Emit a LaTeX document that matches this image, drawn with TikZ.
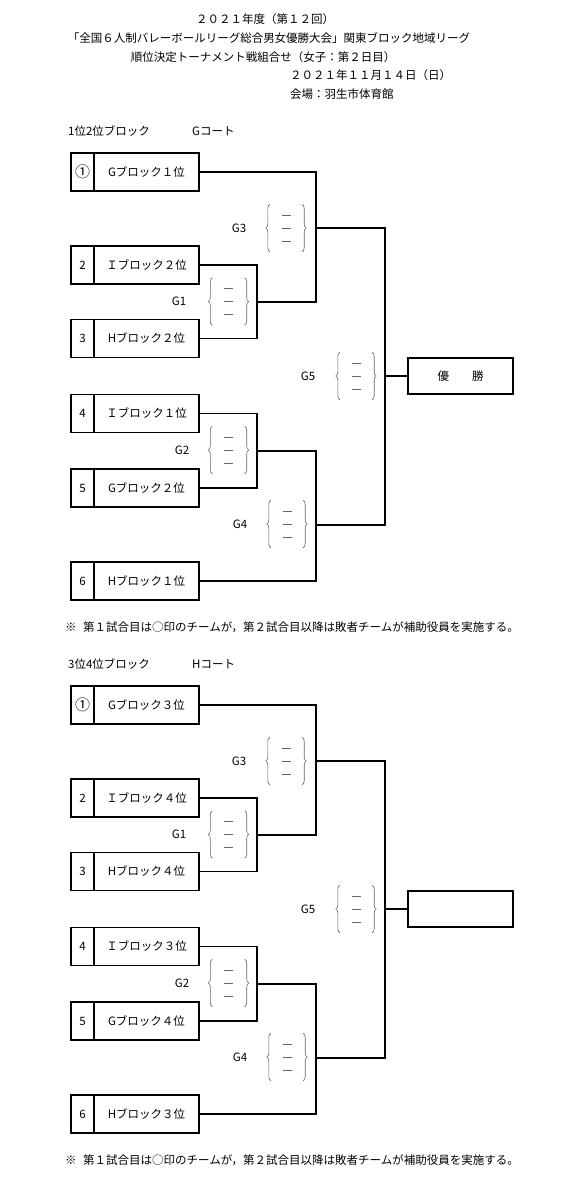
\documentclass[tikz,border=0pt]{standalone}
\usepackage{fontspec}
\setmainfont{Noto Sans CJK JP}
\usetikzlibrary{decorations.pathreplacing}
\tikzset{
  txt/.style={inner sep=0pt, font=\fontsize{11.5}{14}\selectfont},
  numcell/.style={draw, line width=1.2pt, minimum width=23pt, minimum height=38pt, inner sep=0pt, font=\fontsize{11.5}{14}\selectfont},
  namecell/.style={draw, line width=1.2pt, minimum width=105pt, minimum height=38pt, inner sep=0pt, font=\fontsize{11.5}{14}\selectfont},
  champ/.style={draw, line width=1.2pt, minimum width=105pt, minimum height=36pt, inner sep=0pt, font=\fontsize{11.5}{14}\selectfont},
  wire/.style={line width=1.2pt, black},
  scorebox/.style={minimum width=32pt, minimum height=47pt, inner sep=0pt},
  bracel/.style={draw=black!60, line width=0.6pt, decorate, decoration={brace, amplitude=4pt}},
  dashln/.style={draw=black!60, line width=0.6pt},
}
\newcommand\scoreset[5]{%
  \node[scorebox] (#1) at (#2,#3) {};
  \draw[bracel] (#1.south west) -- (#1.north west);
  \draw[bracel] (#1.north east) -- (#1.south east);
  \draw[dashln] ([xshift=-4.5pt,yshift=13pt]#1.center) -- ([xshift=4.5pt,yshift=13pt]#1.center);
  \draw[dashln] ([xshift=-4.5pt]#1.center) -- ([xshift=4.5pt]#1.center);
  \draw[dashln] ([xshift=-4.5pt,yshift=-13pt]#1.center) -- ([xshift=4.5pt,yshift=-13pt]#1.center);
  \node[txt] (#1lab) at (#4,#3) {#5};
}
\newcommand\bracketblock[2]{%
\begin{scope}[yshift=-#2pt]
  \node[txt, anchor=west] (#1hdr) at (68,131) {\hdrA};
  \node[txt, anchor=west] (#1crt) at (192,131) {\hdrB};
  \node[numcell, font=\fontsize{15}{16}\selectfont] (#1n1) at (82.5,172) {①};
  \node[namecell] (#1t1) at (146.5,172) {\tA};
  \node[numcell] (#1n2) at (82.5,265) {2};
  \node[namecell] (#1t2) at (146.5,265) {\tB};
  \node[numcell] (#1n3) at (82.5,338.5) {3};
  \node[namecell] (#1t3) at (146.5,338.5) {\tC};
  \node[numcell] (#1n4) at (82.5,413.5) {4};
  \node[namecell] (#1t4) at (146.5,413.5) {\tD};
  \node[numcell] (#1n5) at (82.5,488) {5};
  \node[namecell] (#1t5) at (146.5,488) {\tE};
  \node[numcell] (#1n6) at (82.5,581) {6};
  \node[namecell] (#1t6) at (146.5,581) {\tF};
  \node[champ] (#1ch) at (460.5,376) {\chtext};
  \coordinate (#1j1) at (257,302);
  \coordinate (#1j2) at (257,451);
  \coordinate (#1j3) at (316,228);
  \coordinate (#1j4) at (316,525);
  \coordinate (#1j5) at (385,376);
  \draw[wire] (#1t2.east) -| (#1j1) |- (#1t3.east);
  \draw[wire] (#1t1.east) -| (#1j3) |- (#1j1);
  \draw[wire] (#1t4.east) -| (#1j2) |- (#1t5.east);
  \draw[wire] (#1j2) -| (#1j4) |- (#1t6.east);
  \draw[wire] (#1j3) -| (#1j5) |- (#1j4);
  \draw[wire] (#1j5) -- (#1ch.west);
  \scoreset{#1g3}{286}{228}{239}{G3}
  \scoreset{#1g1}{228.5}{301.5}{179}{G1}
  \scoreset{#1g5}{356}{376}{308}{G5}
  \scoreset{#1g2}{228.5}{450}{182}{G2}
  \scoreset{#1g4}{287}{524}{240}{G4}
  \node[txt, anchor=west] (#1note) at (65,627) {※\hspace{6.5pt}第１試合目は○印のチームが，第２試合目以降は敗者チームが補助役員を実施する。};
\end{scope}}
\begin{document}
\begin{tikzpicture}[x=1pt, y=-1pt]
  \path[fill=white, use as bounding box] (0,0) rectangle (575,1189);
  \node[txt] (title1) at (265,19) {２０２１年度（第１２回）};
  \node[txt] (title2) at (269,38) {「全国６人制バレーボールリーグ総合男女優勝大会」関東ブロック地域リーグ};
  \node[txt] (title3) at (263,57) {順位決定トーナメント戦組合せ（女子：第２日目）};
  \node[txt, anchor=west] (date) at (290,75) {２０２１年１１月１４日（日）};
  \node[txt, anchor=west] (venue) at (290,94) {会場：羽生市体育館};
  \def\hdrA{1位2位ブロック}\def\hdrB{Gコート}
  \def\tA{Gブロック１位}\def\tB{Ｉブロック２位}\def\tC{Hブロック２位}
  \def\tD{Ｉブロック１位}\def\tE{Gブロック２位}\def\tF{Hブロック１位}
  \def\chtext{優　　勝}
  \bracketblock{a}{0}
  \def\hdrA{3位4位ブロック}\def\hdrB{Hコート}
  \def\tA{Gブロック３位}\def\tB{Ｉブロック４位}\def\tC{Hブロック４位}
  \def\tD{Ｉブロック３位}\def\tE{Gブロック４位}\def\tF{Hブロック３位}
  \def\chtext{}
  \bracketblock{b}{533}
\end{tikzpicture}
\end{document}
